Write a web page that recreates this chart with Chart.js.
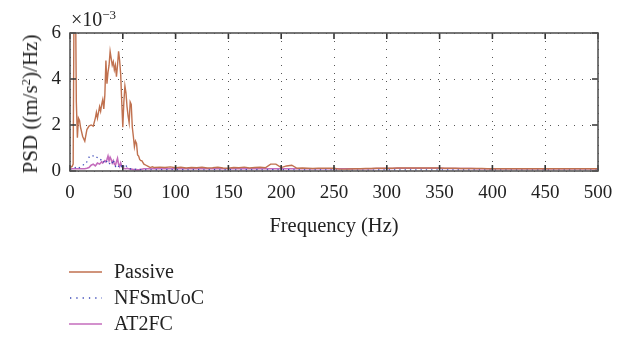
<!DOCTYPE html>
<html><head><meta charset="utf-8">
<script src="https://cdn.jsdelivr.net/npm/chart.js@4"></script>
<style>
body{margin:0;background:#fff;}
#wrap{position:relative;width:634px;height:338px;font-family:"Liberation Serif",serif;color:#222;}
canvas{position:absolute;left:0;top:0;}
.t{position:absolute;white-space:nowrap;font-size:20px;line-height:1;}
.lg{position:absolute;left:68px;width:40px;height:6px;}
</style></head><body>
<div id="wrap">
<canvas id="c" width="634" height="338"></canvas>
<div class="t" style="left:71px;top:8px;">×10<sup style="font-size:13px;vertical-align:7px;">−3</sup></div>
<div class="t" style="left:30px;top:104px;font-size:21px;transform:translate(-50%,-50%) rotate(-90deg);">PSD ((m/s<sup style="font-size:13px;vertical-align:7px;">2</sup>)/Hz)</div>
<div class="t" style="left:334px;top:225px;font-size:20.5px;transform:translate(-50%,-50%);">Frequency (Hz)</div>
<svg class="lg" style="top:269px"><line x1="1" y1="3" x2="34" y2="3" stroke="#c0714f" stroke-width="1.4"/></svg>
<svg class="lg" style="top:295px"><line x1="2" y1="3" x2="34" y2="3" stroke="#3a48b8" stroke-width="1.4" stroke-dasharray="1.3,5"/></svg>
<svg class="lg" style="top:321px"><line x1="1" y1="3" x2="34" y2="3" stroke="#c46cbc" stroke-width="1.6"/></svg>
<div class="t" style="left:114px;top:261px;">Passive</div>
<div class="t" style="left:114px;top:287px;">NFSmUoC</div>
<div class="t" style="left:114px;top:313px;">AT2FC</div>
</div>
<script>
const freqLow = [0,2,3,4,5,6,7,8,9,10,12,14,16,18,20,22,24,25,26,28,29,30,31,32,33,34,35,36,37,38,39,40,41,42,43,44,45,46,47,48,49,50,51,52,53,54,55,56,57,58,59,60,61,62,63,64,65,66,67,68,70,72,74,76,78,80];
const freqHigh = [85,90,95,100,105,110,115,120,125,130,135,140,145,150,155,160,165,170,175,180,185,190,195,200,205,210,215,220,225,230,235,240,245,250,255,260,265,270,275,280,285,290,295,300,305,310,315,320,325,330,335,340,345,350,355,360,365,370,375,380,385,390,395,400,405,410,415,420,425,430,435,440,445,450,455,460,465,470,475,480,485,490,495,500];

const passiveLow = [0.15,0.2,0.3,9,9,3.0,1.45,2.3,2.2,1.9, 1.5,1.3,1.8,1.95,2.0,1.95,2.3, 2.55,2.3,
 2.8,2.6,2.9,3.1,2.7,3.3,4.8,3.8,4.3,4.6, 5.2,4.9,4.6,4.75,4.4,4.6,4.1,4.6,5.2,4.8,
 4.2,3.0,1.9,3.0,3.7,3.4,2.8,2.4,2.1,3.0, 2.9,1.9,1.5,1.05,1.3,1.2,0.7,0.65,0.5,0.45,
 0.45,0.3,0.25,0.2,0.15,0.18,0.15];
const passiveHigh = [0.17,0.15,0.18,0.14,0.16,0.13,0.15,0.14,0.16,0.13,0.14,0.16,0.13,0.12,0.15,0.14,0.17,0.13,0.15,0.16,
 0.14,0.3,0.3,0.15,0.22,0.25,0.12,0.13,0.12,0.11,0.12,0.12,0.12,0.12,0.08,0.08,0.09,0.1,0.1,0.11,
 0.11,0.12,0.12,0.12,0.12,0.13,0.13,0.13,0.13,0.13,0.13,0.13,0.13,0.13,0.12,0.12,0.12,0.11,0.11,0.11,
 0.11,0.11,0.1,0.1,0.1,0.1,0.1,0.1,0.1,0.1,0.1,0.1,0.1,0.1,0.1,0.1,0.1,0.1,0.1,0.1,0.1,0.1,0.1,0.1];

const nfsLow = [0.05,0.08,0.1,0.1,0.15,0.17,0.12,0.1,0.15,0.2, 0.28,0.25,0.4,0.6,0.7,0.65,0.6, 0.55,0.62,
 0.55,0.5,0.45,0.5,0.4,0.35,0.45,0.4,0.3,0.35, 0.3,0.25,0.35,0.5,0.3,0.2,0.25,0.3,0.2,0.15,
 0.25,0.2,0.3,0.2,0.15,0.25,0.15,0.12,0.1,0.1, 0.08,0.1,0.08,0.07,0.08,0.06,0.07,0.06,0.05,0.06,
 0.05,0.06,0.05,0.06,0.05,0.06,0.05];
const nfsHigh = [0.06,0.05,0.07,0.05,0.06,0.05,0.05,0.06,0.05,0.05,0.06,0.05,0.05,0.06,0.05,0.05,0.06,0.05,0.06,0.05,
 0.05,0.06,0.05,0.05,0.06,0.05,0.05,0.05,0.05,0.05,0.05,0.05,0.05,0.05,0.04,0.04,0.04,0.04,0.04,0.04,
 0.04,0.04,0.05,0.05,0.05,0.05,0.05,0.05,0.05,0.05,0.05,0.05,0.05,0.05,0.05,0.05,0.05,0.05,0.05,0.05,
 0.05,0.05,0.05,0.05,0.05,0.05,0.05,0.05,0.05,0.05,0.05,0.05,0.05,0.05,0.05,0.05,0.05,0.05,0.05,0.05,0.05,0.05,0.05,0.05];

const at2Low = [0.1,0.1,0.1,0.1,0.1,0.1,0.1,0.1,0.1,0.1, 0.1,0.1,0.12,0.15,0.25,0.3,0.22, 0.28,0.35,
 0.3,0.35,0.4,0.35,0.4,0.45,0.4,0.5,0.65,0.45, 0.6,0.5,0.35,0.45,0.3,0.25,0.4,0.55,0.3,0.2,
 0.35,0.2,0.15,0.12,0.1,0.1,0.12,0.1,0.1,0.08, 0.08,0.07,0.06,0.06,0.05,0.06,0.05,0.05,0.06,0.07,
 0.08,0.1,0.1,0.1,0.1,0.1,0.1];
const at2High = [0.1,0.1,0.1,0.1,0.1,0.1,0.1,0.1,0.1,0.1,0.1,0.1,0.1,0.1,0.1,0.1,0.1,0.1,0.1,0.1,
 0.1,0.1,0.1,0.1,0.1,0.1,0.1,0.1,0.1,0.1,0.1,0.1,0.1,0.1,0.1,0.1,0.1,0.1,0.1,0.1,
 0.1,0.11,0.11,0.11,0.11,0.12,0.12,0.12,0.12,0.12,0.12,0.12,0.12,0.12,0.11,0.11,0.11,0.11,0.11,0.11,
 0.1,0.1,0.1,0.1,0.1,0.1,0.1,0.1,0.1,0.1,0.1,0.1,0.1,0.1,0.1,0.1,0.1,0.1,0.1,0.1,0.1,0.1,0.1,0.1];

const xTicks = [0,50,100,150,200,250,300,350,400,450,500];
const yTicks = [0,2,4,6];

const freq = freqLow.concat(freqHigh);
function pts(lo, hi){ const v = lo.concat(hi); return freq.map((f,i)=>({x:f,y:v[i]})); }

const boxPlugin = {
  id:'box',
  afterDraw(chart){
    const {ctx, chartArea:a, scales} = chart;
    ctx.save();
    ctx.strokeStyle='#333'; ctx.lineWidth=1.6;
    ctx.beginPath();
    scales.x.ticks.forEach(t=>{ const px=scales.x.getPixelForValue(t.value);
      ctx.moveTo(px,a.bottom); ctx.lineTo(px,a.bottom-6);
      ctx.moveTo(px,a.top); ctx.lineTo(px,a.top+6); });
    scales.y.ticks.forEach(t=>{ const py=scales.y.getPixelForValue(t.value);
      ctx.moveTo(a.left,py); ctx.lineTo(a.left+6,py);
      ctx.moveTo(a.right,py); ctx.lineTo(a.right-6,py); });
    ctx.stroke();
    ctx.strokeStyle='#555'; ctx.lineWidth=1.6;
    ctx.strokeRect(a.left,a.top,a.right-a.left,a.bottom-a.top);
    ctx.restore();
  }
};

new Chart(document.getElementById('c'),{
  type:'line',
  data:{datasets:[
    {label:'Passive',data:pts(passiveLow,passiveHigh),borderColor:'#c0714f',borderWidth:1.4,pointRadius:0,tension:0},
    {label:'NFSmUoC',data:pts(nfsLow,nfsHigh),borderColor:'#3a48b8',borderWidth:1.3,borderDash:[1.3,4],pointRadius:0,tension:0},
    {label:'AT2FC',data:pts(at2Low,at2High),borderColor:'#c46cbc',borderWidth:1.6,pointRadius:0,tension:0}
  ]},
  options:{
    responsive:false,animation:false,
    layout:{padding:{left:0,right:36,top:33,bottom:0}},
    plugins:{legend:{display:false},tooltip:{enabled:false}},
    scales:{
      x:{type:'linear',min:0,max:500,
        afterBuildTicks(s){ s.ticks = xTicks.map(v=>({value:v})); },
        afterFit(s){ s.height=167; },
        grid:{color:'#555',lineWidth:1,drawTicks:false,tickLength:0},
        border:{display:false,dash:[1,7]},
        ticks:{padding:11,color:'#222',font:{family:'Liberation Serif',size:19},maxRotation:0}
      },
      y:{min:0,max:6,
        afterBuildTicks(s){ s.ticks = yTicks.map(v=>({value:v})); },
        afterFit(s){ s.width=70; },
        grid:{color:'#555',lineWidth:1,drawTicks:false,tickLength:0},
        border:{display:false,dash:[1,7]},
        ticks:{padding:9,color:'#222',font:{family:'Liberation Serif',size:19}}
      }
    }
  },
  plugins:[boxPlugin]
});
</script>
</body></html>
